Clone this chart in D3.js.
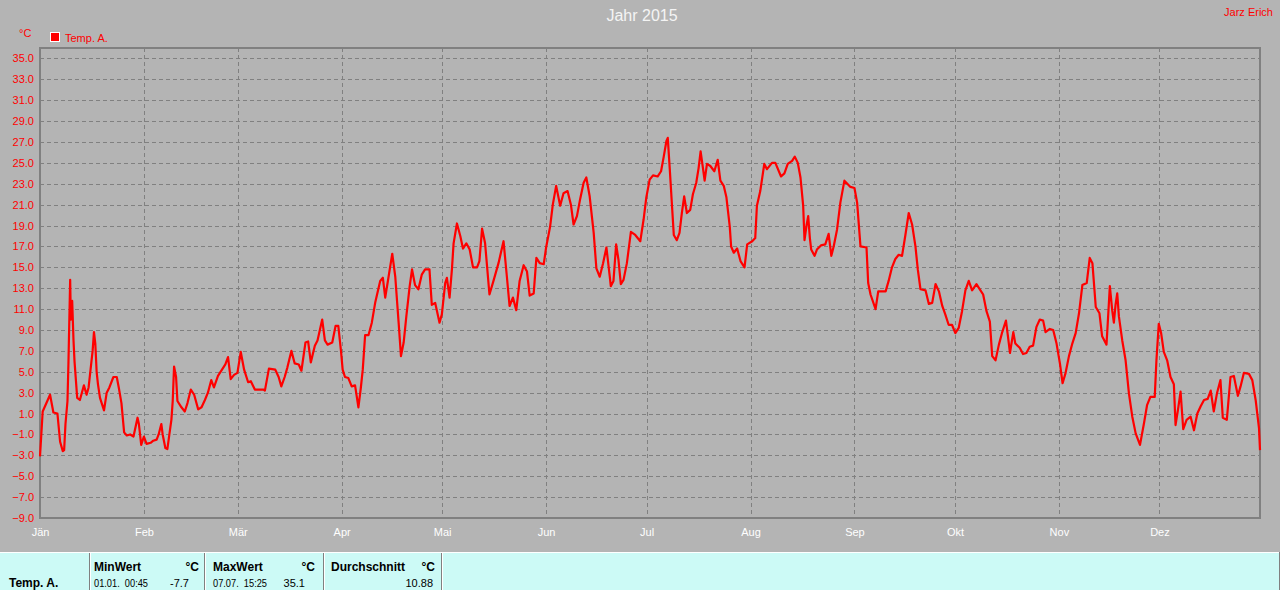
<!DOCTYPE html>
<html><head><meta charset="utf-8">
<script src="https://cdn.jsdelivr.net/npm/d3@7"></script>
<style>
html,body{margin:0;padding:0;background:#b4b4b4;overflow:hidden;}
svg{display:block;font-family:Arial,"Liberation Sans",sans-serif;}
</style></head>
<body>
<svg id="c" width="1280" height="590"></svg>
<script>
const title = "Jahr 2015";
const author = "Jarz Erich";
const unit = "°C";
const seriesName = "Temp. A.";
const monthLabels = ["Jän","Feb","Mär","Apr","Mai","Jun","Jul","Aug","Sep","Okt","Nov","Dez"];
const yTicks = [-9,-7,-5,-3,-1,1,3,5,7,9,11,13,15,17,19,21,23,25,27,29,31,33,35];

// day offsets since 1 Jan 2015 and temperatures (°C)
const dayOffsets = [0,0.8,3.0,4.0,5.2,6.0,6.8,7.2,7.6,8.2,8.5,9.0,9.2,9.6,10.0,10.3,11.1,11.9,13.1,13.9,14.5,15.7,16.1,16.5,16.9,17.3,17.9,19.1,19.9,20.7,21.9,22.9,23.5,24.3,25.1,25.9,26.9,27.9,29.1,29.5,30.2,31.0,31.8,33.0,33.8,34.8,35.4,36.2,36.6,37.4,38.0,38.6,39.2,39.6,40.0,40.6,41.0,42.2,43.2,44.0,45.0,46.0,47.2,48.2,49.2,50.1,51.1,51.9,53.1,54.3,55.3,56.1,56.9,57.9,58.9,59.9,60.9,62.1,62.9,64.1,66.7,67.1,68.3,70.2,71.2,72.0,73.0,73.8,75.0,76.0,77.2,78.0,79.2,80.0,80.8,82.0,82.8,84.2,85.0,85.8,87.2,88.2,89.0,89.8,90.3,91.0,92.0,93.0,94.0,95.0,95.7,96.3,97.0,98.0,99.0,100.0,101.5,102.3,103.0,104.0,105.1,106.0,107.0,107.7,108.5,109.3,110.3,111.0,111.9,112.9,113.9,114.9,116.2,116.9,117.9,119.2,119.9,120.9,121.4,122.2,122.9,123.4,124.4,125.4,126.2,127.2,128.2,129.2,130.4,131.1,131.9,132.8,134.1,135.3,136.8,138.3,139.3,140.1,141.1,142.1,143.1,144.3,145.3,146.1,147.3,148.1,149.1,150.3,151.0,152.2,153.0,154.0,155.2,156.2,157.4,158.4,159.2,160.2,161.2,162.2,163.0,164.0,165.2,166.0,167.0,168.0,169.0,170.0,170.3,171.1,171.9,172.6,173.3,174.1,175.1,176.3,177.6,179.1,180.1,180.9,181.9,182.9,184.3,185.3,186.1,186.9,187.3,187.9,188.6,189.1,190.0,190.8,191.5,192.2,193.0,194.0,194.8,195.8,196.5,197.1,197.8,198.3,199.0,200.0,201.2,202.2,203.0,204.0,204.8,205.8,206.2,207.0,208.0,209.0,210.2,211.0,212.5,213.4,213.9,214.9,216.1,216.9,218.4,219.4,221.1,222.1,223.1,224.4,225.2,226.1,226.9,227.7,228.1,228.7,229.2,229.7,230.1,231.1,231.8,233.0,234.3,235.3,236.1,236.8,237.8,238.8,240.0,241.8,243.0,243.8,244.8,246.6,247.1,247.8,249.3,250.1,252.3,253.2,254.2,255.2,256.2,257.2,258.2,259.2,260.2,261.2,261.9,262.7,264.2,265.2,266.2,267.2,268.2,269.2,270.1,271.1,272.1,273.1,274.1,275.1,276.1,277.1,278.1,279.4,280.6,281.4,282.4,283.4,284.1,285.1,286.1,287.1,288.2,288.8,289.4,290.4,291.0,292.3,293.3,294.3,295.3,296.3,297.3,298.3,299.3,300.0,301.3,302.3,303.3,304.3,305.1,306.0,307.0,308.0,309.0,310.0,311.0,312.3,313.2,314.0,315.0,316.1,316.9,318.2,318.6,319.2,319.9,320.4,320.9,321.4,321.9,322.9,323.9,324.9,325.9,326.9,328.2,329.4,330.3,331.3,332.6,333.1,333.8,334.5,335.3,336.3,337.3,338.3,338.8,339.5,340.3,341.1,342.1,343.3,344.3,345.3,346.3,347.3,348.4,349.3,350.2,351.2,352.2,352.9,354.1,355.2,356.2,357.4,358.2,359.2,360.7,361.7,362.7,363.7,364.0];
const temps = [-3.1,1.2,2.8,1.1,1.0,-1.7,-2.6,-2.5,0,2.2,6.0,13.8,10,11.8,8,6,2.5,2.3,3.7,2.8,3.5,7,8.8,7.7,5,3.8,2.5,1.3,3,3.5,4.5,4.5,3.5,2,-0.8,-1.1,-1,-1.2,0.6,0,-2,-1.2,-1.9,-1.8,-1.6,-1.5,-1,0,-1,-2.3,-2.4,-1,0.4,2.2,5.5,4.5,2.2,1.6,1.2,2,3.3,2.8,1.4,1.6,2.3,3,4.2,3.5,4.6,5.2,5.7,6.4,4.3,4.7,4.9,6.9,5.2,4.0,4.1,3.3,3.3,3.2,5.3,5.2,4.5,3.6,4.5,5.4,7.0,5.8,5.7,5.1,7.8,7.9,5.9,7.5,8,10,8,7.6,7.8,9.4,9.4,7,5.2,4.5,4.4,3.6,3.7,1.6,3.4,5.2,8.5,8.5,9.7,11.6,13.7,14.0,12.1,14.1,16.3,14.1,9.7,6.5,7.8,10.3,13.2,14.8,13.3,12.9,14.3,14.8,14.8,11.4,11.6,9.7,10.5,13.5,14.0,12.1,14.8,17.3,19.2,18.0,16.8,17.3,16.7,15.0,15.0,15.6,18.7,17.3,12.4,13.7,15.4,17.5,14.1,11.3,12.1,10.9,13.7,15.2,14.6,12.3,12.5,15.9,15.4,15.3,16.9,18.9,21.0,22.8,20.9,22.1,22.3,21.0,19.1,19.9,21.6,23.1,23.6,21.8,18.3,14.9,14.1,15.4,16.9,14.1,13.2,13.7,17.2,15.7,13.4,13.8,15.4,18.4,18.1,17.5,19.6,21.7,23.4,23.8,23.7,24.2,25.6,27.1,27.4,24.4,20.7,18.1,17.6,18.3,20.2,21.8,20.2,20.5,22.0,23.1,24.5,26.1,24.5,23.3,24.9,24.7,24.2,25.3,23.3,22.8,21.7,18.9,17.0,16.4,16.8,15.6,15.0,17.2,17.5,17.8,20.9,22.3,24.9,24.4,25.0,25.0,23.7,24.0,24.9,25.2,25.6,25.0,23.6,20.9,17.6,19.0,19.9,17.8,16.7,16.1,16.7,17.1,17.2,18.2,16.1,17.0,18.6,21.2,23.3,22.7,22.6,21.2,17.0,16.9,13.5,12.4,11.0,12.7,12.7,13.7,15.0,15.8,16.2,16.1,18.1,20.2,19.1,17.0,14.8,12.9,12.8,11.5,11.6,13.4,12.7,11.3,10.5,9.5,9.5,8.7,9.2,10.8,12.8,13.7,12.8,13.4,12.8,12.4,10.8,9.8,6.5,6.1,7.6,8.8,9.9,8.4,6.8,8.8,7.7,7.3,6.7,6.8,7.4,7.5,9.3,10.0,9.9,8.8,9.1,9.0,7.7,5.8,3.9,4.9,6.5,7.7,8.7,10.6,13.3,13.5,15.9,15.4,11.2,10.6,8.4,7.6,9.8,13.2,10.9,9.7,11.4,12.5,10.3,8.0,6.1,2.9,0.7,-0.9,-2.0,0.1,1.8,2.6,2.6,6.1,9.6,8.7,6.9,6.1,4.5,3.8,-0.1,1.3,3.1,-0.5,0.4,0.7,-0.6,1.0,1.7,2.3,2.4,3.2,1.2,3.0,4.2,0.6,0.4,4.5,4.6,2.7,3.6,4.9,4.8,4.2,2.3,-0.4,-2.5];

// statistics table
const statHeaders = ["MinWert","MaxWert","Durchschnitt"];
const statStamps = ["01.01.  00:45","07.07.  15:25",""];
const statValues = ["-7.7","35.1","10.88"];

const svg = d3.select("#c");
const W = 1280, H = 590;
const pL = 40, pR = 1260, pT = 48, pB = 518;
const start = Date.UTC(2015,0,1);
const dayMs = 86400000;

const x = d3.scaleUtc().domain([new Date(start), new Date(Date.UTC(2015,11,31))]).range([pL, pR]);
const y = d3.scaleLinear().domain([-9, 36]).range([pB, pT]);

svg.append("rect").attr("width", W).attr("height", H).attr("fill", "#b4b4b4");

// title & author
svg.append("text").attr("x", 642).attr("y", 21).attr("text-anchor", "middle")
  .attr("font-size", 16).attr("fill", "#f4f4f4").text(title);
svg.append("text").attr("x", 1273).attr("y", 16).attr("text-anchor", "end")
  .attr("font-size", 11).attr("fill", "#ff0000").text(author);

// unit & legend
svg.append("text").attr("x", 19).attr("y", 37).attr("font-size", 11).attr("fill", "#ff0000").text(unit);
svg.append("rect").attr("x", 50.5).attr("y", 32.5).attr("width", 9).attr("height", 9)
  .attr("fill", "#ff0000").attr("stroke", "#ffffff").attr("stroke-width", 1);
svg.append("text").attr("x", 65).attr("y", 42).attr("font-size", 11).attr("fill", "#ff0000").text(seriesName);

// grid
const months = d3.utcMonth.range(new Date(start), new Date(Date.UTC(2016,0,1)));
const grid = svg.append("g").attr("stroke", "#808080").attr("stroke-width", 1).attr("stroke-dasharray", "4,3");
grid.selectAll("line.h").data(yTicks.filter(t => t > -9)).join("line").attr("class", "h")
  .attr("x1", pL).attr("x2", pR)
  .attr("y1", d => Math.round(y(d)) + 0.5).attr("y2", d => Math.round(y(d)) + 0.5);
grid.selectAll("line.v").data(months.slice(1)).join("line").attr("class", "v")
  .attr("y1", pT).attr("y2", pB)
  .attr("x1", d => Math.round(x(d)) + 0.5).attr("x2", d => Math.round(x(d)) + 0.5);

// y axis
const yAxis = svg.append("g").attr("transform", `translate(${pL},0)`)
  .call(d3.axisLeft(y).tickValues(yTicks).tickFormat(d3.format(".1f")).tickSize(0).tickPadding(6));
yAxis.select(".domain").remove();
yAxis.selectAll("text").attr("fill", "#ff0000").attr("font-size", 11)
  .attr("font-family", "Arial, 'Liberation Sans', sans-serif");

// x axis
const xAxis = svg.append("g").attr("transform", `translate(0,${pB})`)
  .call(d3.axisBottom(x).tickValues(months).tickFormat((d, i) => monthLabels[i]).tickSize(0).tickPadding(10));
xAxis.select(".domain").remove();
xAxis.selectAll("text").attr("fill", "#ffffff").attr("font-size", 11)
  .attr("font-family", "Arial, 'Liberation Sans', sans-serif");

// frame
svg.append("rect").attr("x", pL).attr("y", pT).attr("width", pR - pL).attr("height", pB - pT)
  .attr("fill", "none").attr("stroke", "#808080").attr("stroke-width", 2);

// line
const pts = dayOffsets.map((d, i) => [new Date(start + d * dayMs), temps[i]]);
svg.append("path").datum(pts)
  .attr("fill", "none").attr("stroke", "#ff0000").attr("stroke-width", 2.2)
  .attr("stroke-linejoin", "round")
  .attr("d", d3.line().x(d => x(d[0])).y(d => y(d[1])));

// stats table
const tbl = svg.append("g");
tbl.append("rect").attr("x", 0).attr("y", 552).attr("width", 1279).attr("height", 38).attr("fill", "#ccfaf6");
tbl.append("line").attr("x1", 0).attr("x2", 1279).attr("y1", 552.5).attr("y2", 552.5).attr("stroke", "#ffffff");
tbl.append("line").attr("x1", 1279.5).attr("x2", 1279.5).attr("y1", 552).attr("y2", 590).attr("stroke", "#808080");
const seps = [89, 204, 323, 441];
tbl.selectAll("line.sep").data(seps).join("line").attr("class", "sep")
  .attr("x1", d => d + 0.5).attr("x2", d => d + 0.5).attr("y1", 553).attr("y2", 590)
  .attr("stroke", "#808080");
tbl.selectAll("line.sep2").data(seps).join("line").attr("class", "sep2")
  .attr("x1", d => d + 1.5).attr("x2", d => d + 1.5).attr("y1", 553).attr("y2", 590)
  .attr("stroke", "#ffffff");
tbl.append("text").attr("x", 9).attr("y", 587).attr("font-size", 12).attr("font-weight", "bold")
  .attr("fill", "#000").text(seriesName);
const colX = [94, 213, 331];
const colR = [199, 315, 435];
const valR = [189, 305, 433];
statHeaders.forEach((h, i) => {
  tbl.append("text").attr("x", colX[i]).attr("y", 571).attr("font-size", 12).attr("font-weight", "bold").attr("fill", "#000").text(h);
  tbl.append("text").attr("x", colR[i]).attr("y", 571).attr("text-anchor", "end").attr("font-size", 12).attr("font-weight", "bold").attr("fill", "#000").text(unit);
  if (statStamps[i]) {
    tbl.append("text").attr("x", colX[i]).attr("y", 587).attr("font-size", 11).attr("fill", "#000")
      .style("white-space", "pre").attr("textLength", 54).attr("lengthAdjust", "spacingAndGlyphs").text(statStamps[i]);
  }
  tbl.append("text").attr("x", valR[i]).attr("y", 587).attr("text-anchor", "end").attr("font-size", 11).attr("fill", "#000").text(statValues[i]);
});
</script>
</body></html>
